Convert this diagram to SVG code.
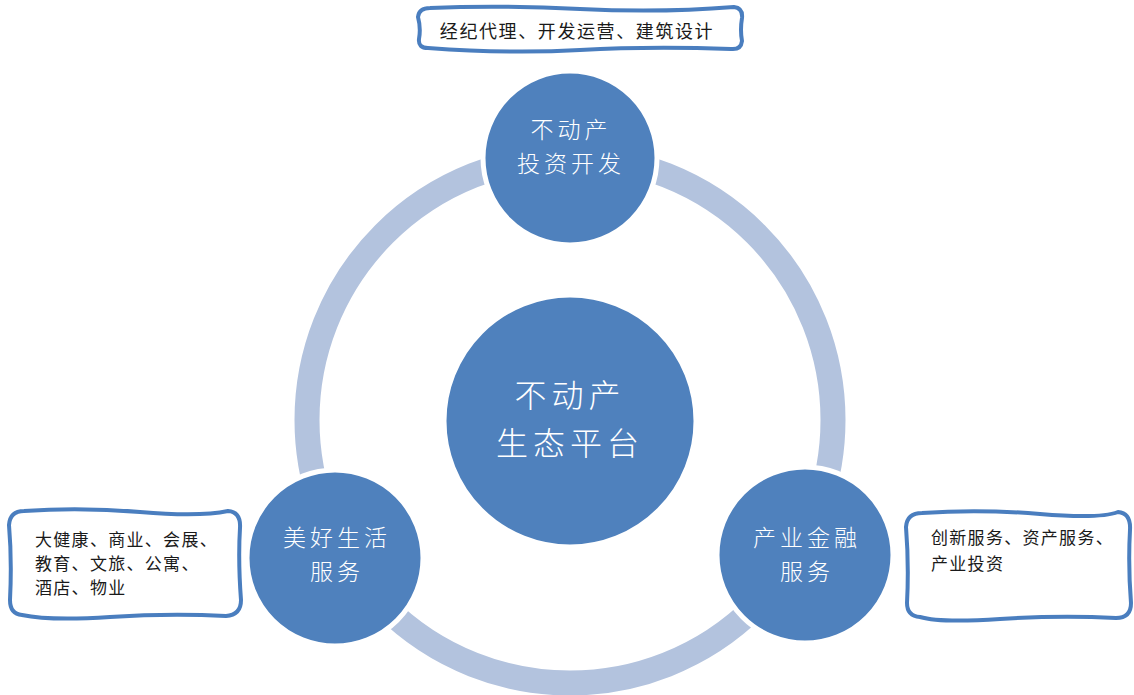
<svg xmlns="http://www.w3.org/2000/svg" width="1134" height="695" viewBox="0 0 1134 695">
<style>
.node{fill:#4f81bd;stroke:#ffffff;stroke-width:5}
.ntxt{fill:#ffffff;font-family:"Noto Sans CJK SC","Noto Sans CJK TC",sans-serif;text-anchor:middle;font-weight:300}
.box{fill:#ffffff;stroke:#4a7ebf;stroke-width:4;stroke-linejoin:round}
.btxt{fill:#1a1a1a;font-family:"Noto Sans CJK SC","Noto Sans CJK TC",sans-serif;font-size:17px;letter-spacing:1.3px}
</style>
<rect width="1134" height="695" fill="#ffffff"/>
<g id="connectors">
<circle cx="570" cy="420" r="263" fill="none" stroke="#b3c3de" stroke-width="25"/>
</g>
<g id="node-center">
<circle class="node" cx="570" cy="421" r="126"/>
<text class="ntxt" x="570" y="407" font-size="32" letter-spacing="5">不动产</text>
<text class="ntxt" x="570" y="455" font-size="32" letter-spacing="5">生态平台</text>
</g>
<g id="node-top">
<circle class="node" cx="570" cy="158" r="87"/>
<text class="ntxt" x="571" y="138" font-size="23" letter-spacing="4">不动产</text>
<text class="ntxt" x="571" y="172" font-size="23" letter-spacing="4">投资开发</text>
</g>
<g id="node-left">
<circle class="node" cx="335" cy="558" r="88"/>
<text class="ntxt" x="337" y="546" font-size="23" letter-spacing="4">美好生活</text>
<text class="ntxt" x="337" y="580" font-size="23" letter-spacing="4">服务</text>
</g>
<g id="node-right">
<circle class="node" cx="805" cy="555" r="88"/>
<text class="ntxt" x="807" y="546" font-size="23" letter-spacing="4">产业金融</text>
<text class="ntxt" x="807" y="580" font-size="23" letter-spacing="4">服务</text>
</g>
<g id="box-top">
<path class="box" d="M430,8 Q500,5 580,9 T734,7 Q743,8 742,18 Q740,30 742,41 Q741,50 731,49 Q650,46 580,50 T428,48 Q418,48 419,39 Q421,28 418,17 Q419,8 430,8 Z"/>
<text class="btxt" x="577" y="38" style="font-size:18px;letter-spacing:1.6px" text-anchor="middle">经纪代理、开发运营、建筑设计</text>
</g>
<g id="box-left">
<path class="box" d="M24,511 Q80,507 140,512 T228,511 Q241,512 240,528 Q238,560 241,600 Q241,615 226,616 Q170,613 110,617 T22,615 Q10,614 10,600 Q12,560 9,525 Q10,511 24,511 Z"/>
<text class="btxt" x="35" y="546">大健康、商业、会展、</text>
<text class="btxt" x="35" y="570">教育、文旅、公寓、</text>
<text class="btxt" x="35" y="594">酒店、物业</text>
</g>
<g id="box-right">
<path class="box" d="M922,513 Q980,509 1040,514 T1118,512 Q1131,513 1130,530 Q1128,565 1131,603 Q1131,618 1116,618 Q1060,615 1000,619 T920,617 Q907,616 907,603 Q909,565 906,527 Q907,513 922,513 Z"/>
<text class="btxt" x="931" y="544">创新服务、资产服务、</text>
<text class="btxt" x="931" y="570">产业投资</text>
</g>
</svg>
